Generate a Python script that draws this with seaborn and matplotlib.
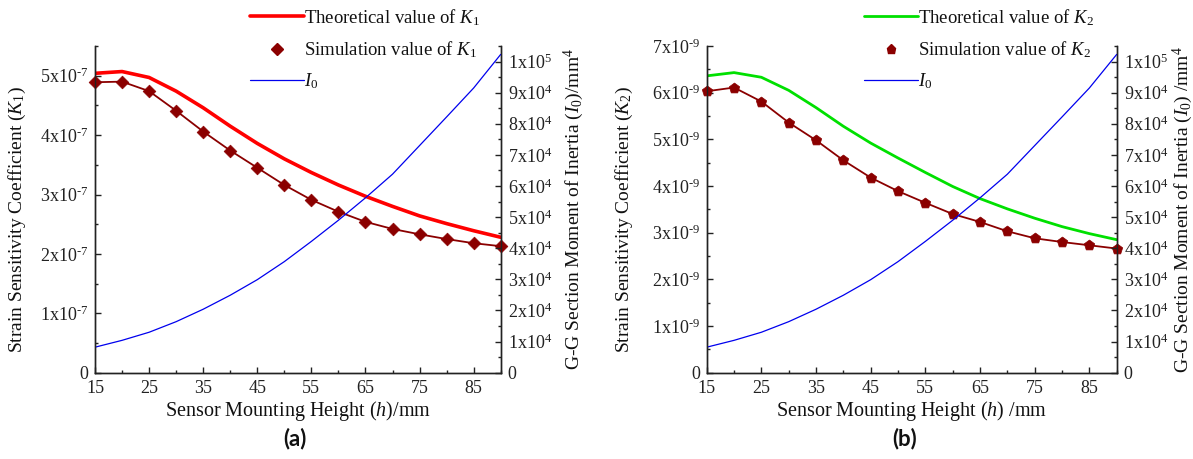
import matplotlib
matplotlib.use("Agg")
import pandas as pd
import matplotlib.pyplot as plt
import seaborn as sns
from matplotlib.lines import Line2D
from matplotlib.ticker import MultipleLocator, FuncFormatter

# sensor mounting height (mm)
h = [15, 20, 25, 30, 35, 40, 45, 50, 55, 60, 65, 70, 75, 80, 85, 90]

# K1 in units of 1e-7
k1_theory = [5.04, 5.07, 4.97, 4.74, 4.46, 4.15, 3.86, 3.60, 3.37, 3.16, 2.97, 2.80, 2.64, 2.51, 2.39, 2.28]
k1_sim = [4.89, 4.90, 4.74, 4.41, 4.06, 3.74, 3.45, 3.16, 2.91, 2.71, 2.54, 2.42, 2.33, 2.25, 2.18, 2.13]

# K2 in units of 1e-9
k2_theory = [6.36, 6.43, 6.33, 6.05, 5.68, 5.28, 4.92, 4.60, 4.29, 3.99, 3.73, 3.51, 3.31, 3.13, 2.98, 2.85]
k2_sim = [6.03, 6.11, 5.81, 5.36, 4.98, 4.55, 4.18, 3.89, 3.64, 3.40, 3.23, 3.03, 2.88, 2.80, 2.73, 2.66]

# G-G section moment of inertia in units of 1e4 mm^4
i0 = [0.82, 1.04, 1.30, 1.64, 2.04, 2.49, 2.99, 3.57, 4.22, 4.90, 5.62, 6.38, 7.30, 8.22, 9.15, 10.23]

sns.set_theme(style="ticks")
plt.rcParams["font.family"] = ["Liberation Serif", "DejaVu Serif"]
plt.rcParams["mathtext.fontset"] = "custom"
plt.rcParams["mathtext.rm"] = "Liberation Serif"
plt.rcParams["mathtext.it"] = "Liberation Serif:italic"
plt.rcParams["text.color"] = "#111111"
plt.rcParams["axes.labelcolor"] = "#111111"
plt.rcParams["xtick.color"] = "#222222"
plt.rcParams["ytick.color"] = "#222222"

df_a = pd.DataFrame({"h": h, "theory": k1_theory, "sim": k1_sim, "i0": i0})
df_b = pd.DataFrame({"h": h, "theory": k2_theory, "sim": k2_sim, "i0": i0})

fig = plt.figure(figsize=(11.93, 4.59), dpi=100)

panels = [
    dict(df=df_a, rect=[95 / 1193, 86.3 / 459, 405.7 / 1193, 326.7 / 459], exp=7, ymax=5.5,
         theory_color="#ff0000", theory_lw=2.6, marker="D", msize=42, k="K_1",
         xlabel="Sensor Mounting Height ($h$)/mm", i0label="G-G Section Moment of Inertia ($I_0$)/mm$^4$",
         leg_x=250 / 1193, tag="(a)", tag_x=295 / 1193, ylx=-0.165, y2x=1.151),
    dict(df=df_b, rect=[706.7 / 1193, 86.3 / 459, 410 / 1193, 326.7 / 459], exp=9, ymax=7.0,
         theory_color="#00e000", theory_lw=2.0, marker="p", msize=62, k="K_2",
         xlabel="Sensor Mounting Height ($h$) /mm", i0label="G-G Section Moment of Inertia ($I_0$) /mm$^4$",
         leg_x=864 / 1193, tag="(b)", tag_x=905 / 1193, ylx=-0.175, y2x=1.132),
]

for p in panels:
    ax = fig.add_axes(p["rect"])
    ax2 = ax.twinx()
    df = p["df"]

    sns.lineplot(data=df, x="h", y="theory", ax=ax, color=p["theory_color"], lw=p["theory_lw"])
    sns.lineplot(data=df, x="h", y="sim", ax=ax, color="#8b0000", lw=1.3)
    sns.scatterplot(data=df, x="h", y="sim", ax=ax, color="#8b0000", marker=p["marker"],
                    s=p["msize"], edgecolor="#8b0000", linewidth=0.5, zorder=3, clip_on=False)
    sns.lineplot(data=df, x="h", y="i0", ax=ax2, color="#0000ee", lw=0.9)

    ax.set_xlim(15, 90)
    ax.set_ylim(0, p["ymax"])
    ax2.set_ylim(0, 10.5)
    ax.set_xticks(range(15, 90, 10))
    ax.xaxis.set_minor_locator(MultipleLocator(5))
    ax.yaxis.set_major_locator(MultipleLocator(1))
    ax.yaxis.set_minor_locator(MultipleLocator(0.5))
    ax2.yaxis.set_major_locator(MultipleLocator(1))
    ax2.yaxis.set_minor_locator(MultipleLocator(0.5))

    exp = p["exp"]
    ax.yaxis.set_major_formatter(FuncFormatter(
        lambda v, _, e=exp: "0" if v == 0 else f"{int(round(v))}x10$^{{\\text{{-}}{e}}}$"))
    ax2.yaxis.set_major_formatter(FuncFormatter(
        lambda v, _: "0" if v == 0 else ("1x10$^5$" if round(v) == 10 else f"{int(round(v))}x10$^4$")))

    for a in (ax, ax2):
        a.spines["top"].set_visible(False)
        for s in a.spines.values():
            s.set_linewidth(1.0)
            s.set_color("#222222")
        a.tick_params(which="both", direction="in", labelsize=13, width=1.0)
        a.tick_params(which="major", length=4.5)
        a.tick_params(which="minor", length=2.5)
    ax.tick_params(axis="x", pad=5)
    ax.tick_params(axis="y", pad=5)
    ax2.tick_params(axis="y", pad=5)

    ax.set_xlabel(p["xlabel"], fontsize=14.5, labelpad=2)
    ax.set_ylabel(f"Strain Sensitivity Coefficient (${p['k']}$)", fontsize=14)
    ax2.set_ylabel(p["i0label"], fontsize=14)
    ax.yaxis.set_label_coords(p["ylx"], 0.47)
    ax2.yaxis.set_label_coords(p["y2x"], 0.5)

    handles = [
        Line2D([], [], color=p["theory_color"], lw=p["theory_lw"]),
        Line2D([], [], color="#8b0000", marker=p["marker"], ls="none", markersize=6.5),
        Line2D([], [], color="#0000ee", lw=0.9),
    ]
    labels = [f"Theoretical value of ${p['k']}$", f"Simulation value of ${p['k']}$", "$I_0$"]
    fig.legend(handles, labels, loc="upper left", bbox_to_anchor=(p["leg_x"], 0.985),
               frameon=False, fontsize=13.5, handlelength=2.9, handletextpad=0.0,
               labelspacing=0.62, borderpad=0, borderaxespad=0)

    fig.text(p["tag_x"], 1 - 439 / 459, p["tag"], ha="center", va="center",
             fontfamily="Lato", fontweight="bold", fontsize=16)

fig.savefig("out.png", dpi=100)
